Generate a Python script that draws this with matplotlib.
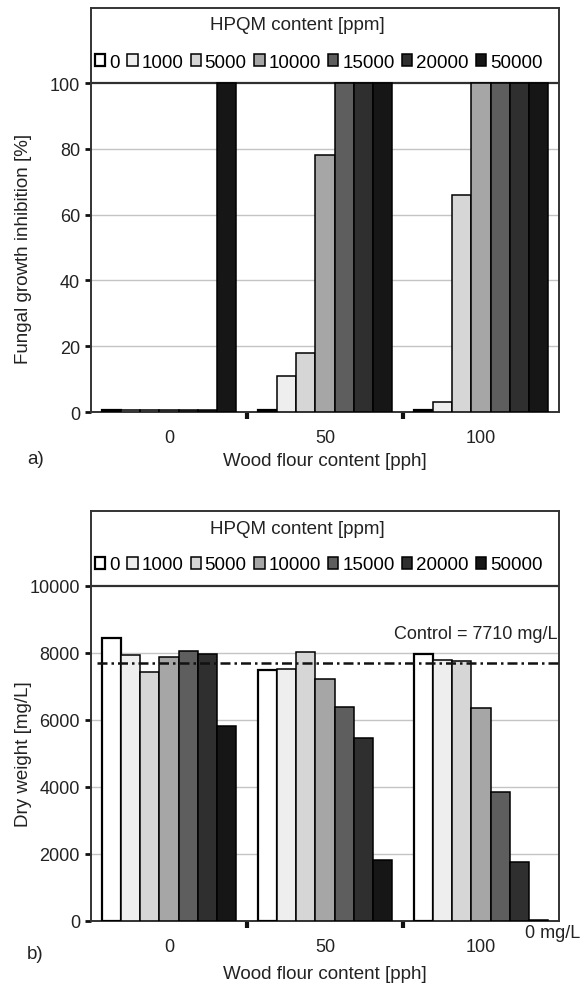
import numpy as np
import matplotlib
matplotlib.use('Agg')
import matplotlib.pyplot as plt
from matplotlib.ticker import FixedLocator

plt.rcParams['font.family'] = ['Liberation Sans', 'DejaVu Sans']

# data
groups = ['0', '50', '100']
hpqm = ['0', '1000', '5000', '10000', '15000', '20000', '50000']
colors = ['#ffffff', '#eeeeee', '#d6d6d6', '#a6a6a6', '#5e5e5e', '#2f2f2f', '#161616']

# fungal growth inhibition [%], rows = HPQM content, cols = wood flour content
inhibition = [
    [0.5, 0.5, 0.5],
    [0.5, 11, 3],
    [0.5, 18, 66],
    [0.5, 78, 100],
    [0.5, 100, 100],
    [0.5, 100, 100],
    [100, 100, 100],
]

# dry weight [mg/L]
dry_weight = [
    [8440, 7500, 7950],
    [7930, 7530, 7780],
    [7430, 8020, 7770],
    [7880, 7220, 6340],
    [8060, 6390, 3850],
    [7950, 5450, 1760],
    [5810, 1810, 20],
]
control = 7710

W, H = 581, 987
fig = plt.figure(figsize=(W / 100, H / 100), dpi=100)


def px(x, y):
    return x / W, 1 - y / H


bar_w = 0.1218
x = np.arange(len(groups))


def make_panel(rect, values, ymax, ticks, ylabel, height_px):
    ax = fig.add_axes(rect)
    for i, (vals, c) in enumerate(zip(values, colors)):
        lw = 1.6 if i == 0 else 1.1
        ax.bar(x + (i - 3) * bar_w, vals, bar_w, color=c, edgecolor='black',
               linewidth=lw, label=hpqm[i], zorder=3)
    ax.set_xlim(-0.5, 2.5)
    ax.set_ylim(0, ymax)
    ax.set_yticks(ticks)
    ax.set_xticks(x)
    ax.set_xticklabels(groups, fontsize=13, color='#222222')
    ax.xaxis.set_minor_locator(FixedLocator([0.5, 1.5]))
    ax.tick_params(axis='x', which='major', length=0, pad=12)
    ax.tick_params(axis='x', which='minor', length=5, width=3, color='#111111')
    ax.tick_params(axis='y', direction='out', length=4, width=2, color='#111111',
                   labelsize=13, labelcolor='#222222', pad=4)
    ax.grid(axis='y', color='#c4c4c4', linewidth=1, zorder=0)
    ax.set_axisbelow(True)
    gl = ax.get_ygridlines()
    gl[-1].set_color('#303030')
    gl[-1].set_linewidth(1.6)
    for s in ax.spines.values():
        s.set_color('#333333')
        s.set_linewidth(1.4)
    ax.set_ylabel(ylabel, fontsize=13.5, color='#222222')
    ax.yaxis.set_label_coords(-0.125, ticks[-1] / ymax / 2)
    ax.legend(loc='center', bbox_to_anchor=(0.487, 1 - 54 / height_px),
              ncol=7, frameon=False, fontsize=13.5, handlelength=0.55, handleheight=0.55,
              handletextpad=0.2, columnspacing=0.4, borderpad=0, borderaxespad=0)
    ax.text(0.44, 1 - 17 / height_px, 'HPQM content [ppm]', transform=ax.transAxes,
            ha='center', va='center', fontsize=13.5, color='#222222')
    return ax


# panel a
ax1 = make_panel([91 / W, 1 - 413 / H, 468 / W, 404 / H], inhibition, 122.8,
                 [0, 20, 40, 60, 80, 100], 'Fungal growth inhibition [%]', 404)
fig.text(*px(91 + 234, 462), 'Wood flour content [pph]', ha='center', va='center',
         fontsize=13.5, color='#222222')
fig.text(*px(27, 460), 'a)', ha='left', va='center', fontsize=13.5, color='#222222')

# panel b
ax2 = make_panel([91 / W, 1 - 922 / H, 468 / W, 410 / H], dry_weight, 12230,
                 [0, 2000, 4000, 6000, 8000, 10000], 'Dry weight [mg/L]', 410)
ax2.axhline(control, xmin=0.013, xmax=1, color='#111111', linewidth=1.8,
            linestyle=(0, (4, 1.6, 1, 1.6)), zorder=4)
ax2.text(2.49, control + 620, 'Control = %d mg/L' % control, ha='right', va='bottom',
         fontsize=13, color='#222222')
ax2.text(2.28, -350, '0 mg/L', ha='left', va='center', fontsize=13, color='#222222',
         clip_on=False)
fig.text(*px(91 + 234, 975), 'Wood flour content [pph]', ha='center', va='center',
         fontsize=13.5, color='#222222')
fig.text(*px(27, 955), 'b)', ha='left', va='center', fontsize=13.5, color='#222222')

fig.savefig('out.png', dpi=100)
